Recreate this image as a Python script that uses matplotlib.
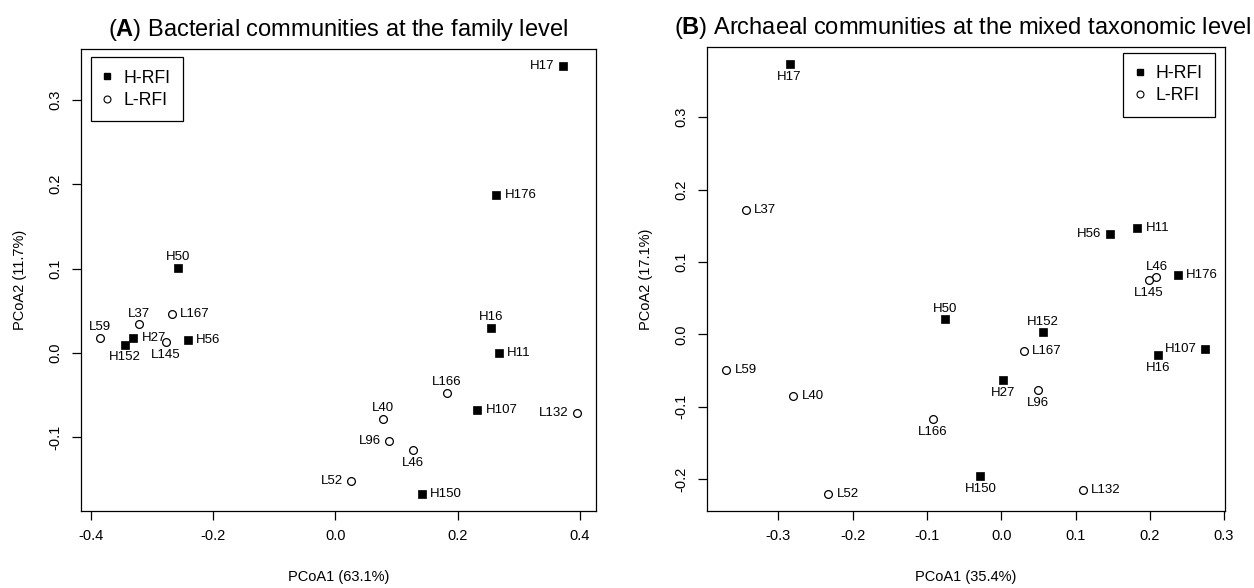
import matplotlib
matplotlib.use('Agg')
import matplotlib.pyplot as plt
from matplotlib.lines import Line2D
from matplotlib.ticker import FormatStrFormatter

plt.rcParams['font.family'] = 'Liberation Sans'
plt.rcParams['axes.unicode_minus'] = False
plt.rcParams['mathtext.fontset'] = 'custom'
plt.rcParams['mathtext.rm'] = 'Liberation Sans'
plt.rcParams['mathtext.bf'] = 'Liberation Sans:bold'

# PCoA - bacterias (familia)
nomes_a = ['H17', 'H176', 'H50', 'H16', 'H11', 'H107', 'H150', 'H27', 'H152', 'H56',
           'L59', 'L37', 'L167', 'L145', 'L166', 'L40', 'L96', 'L46', 'L52', 'L132']
x_a = [0.372, 0.263, -0.257, 0.254, 0.267, 0.232, 0.141, -0.331, -0.345, -0.242,
       -0.385, -0.322, -0.268, -0.277, 0.182, 0.078, 0.088, 0.127, 0.026, 0.395]
y_a = [0.340, 0.187, 0.101, 0.030, 0.000, -0.068, -0.167, 0.018, 0.010, 0.015,
       0.018, 0.034, 0.046, 0.013, -0.047, -0.078, -0.104, -0.115, -0.152, -0.071]
# posicao do rotulo: 1 abaixo, 2 esquerda, 3 acima, 4 direita
pos_a = [2, 4, 3, 3, 4, 4, 4, 4, 1, 4,
         3, 3, 4, 1, 3, 3, 2, 1, 2, 2]

# PCoA - arqueias (nivel misto)
nomes_b = ['H17', 'H56', 'H11', 'H176', 'H50', 'H152', 'H107', 'H16', 'H27', 'H150',
           'L37', 'L46', 'L145', 'L167', 'L96', 'L59', 'L40', 'L166', 'L52', 'L132']
x_b = [-0.285, 0.146, 0.183, 0.238, -0.076, 0.056, 0.275, 0.211, 0.002, -0.028,
       -0.344, 0.209, 0.199, 0.030, 0.049, -0.370, -0.280, -0.092, -0.233, 0.110]
y_b = [0.373, 0.139, 0.147, 0.082, 0.021, 0.003, -0.020, -0.028, -0.063, -0.196,
       0.172, 0.079, 0.075, -0.023, -0.077, -0.049, -0.085, -0.117, -0.220, -0.215]
pos_b = [1, 2, 4, 4, 3, 3, 2, 1, 1, 1,
         4, 3, 1, 4, 1, 4, 4, 1, 4, 4]

titulos = [r'($\mathbf{A}$) Bacterial communities at the family level',
           r'($\mathbf{B}$) Archaeal communities at the mixed taxonomic level']
eixo_x = ['PCoA1 (63.1%)', 'PCoA1 (35.4%)']
eixo_y = ['PCoA2 (11.7%)', 'PCoA2 (17.1%)']
ticks_x = [[-0.4, -0.2, 0.0, 0.2, 0.4], [-0.3, -0.2, -0.1, 0.0, 0.1, 0.2, 0.3]]
ticks_y = [[-0.1, 0.0, 0.1, 0.2, 0.3], [-0.2, -0.1, 0.0, 0.1, 0.2, 0.3]]
grupos = ['H-RFI', 'L-RFI']

fig = plt.figure(figsize=(12.54, 5.88), dpi=100)
ax_a = fig.add_axes([0.0646, 0.131, 0.4107, 0.7857])
ax_b = fig.add_axes([0.564, 0.1315, 0.4126, 0.788])

desloc = {1: ((0, -5), 'center', 'top'),
          2: ((-6, 0), 'right', 'center'),
          3: ((0, 5.5), 'center', 'baseline'),
          4: ((6, 0), 'left', 'center')}


def limites(v):
    # estilo R: 4% de margem
    d = (max(v) - min(v)) * 0.04
    return min(v) - d, max(v) + d


paineis = [(ax_a, nomes_a, x_a, y_a, pos_a), (ax_b, nomes_b, x_b, y_b, pos_b)]
for i, (ax, nomes, xs, ys, pos) in enumerate(paineis):
    for n, x, y, p in zip(nomes, xs, ys, pos):
        if n.startswith('H'):
            ax.plot(x, y, 's', ms=6, mfc='black', mec='black', mew=0.5)
        else:
            ax.plot(x, y, 'o', ms=5.6, mfc='white', mec='black', mew=0.9)
        off, ha, va = desloc[p]
        ax.annotate(n, (x, y), xytext=off, textcoords='offset points',
                    ha=ha, va=va, fontsize=9.5)

    ax.set_xlim(limites(xs))
    ax.set_ylim(limites(ys))
    ax.set_xticks(ticks_x[i])
    ax.set_yticks(ticks_y[i])
    ax.xaxis.set_major_formatter(FormatStrFormatter('%.1f'))
    ax.yaxis.set_major_formatter(FormatStrFormatter('%.1f'))
    ax.tick_params(direction='out', length=6.5, width=0.9, labelsize=10.5)
    ax.tick_params(axis='x', pad=6.5)
    ax.tick_params(axis='y', pad=7, labelrotation=90)
    for lab in ax.get_yticklabels():
        lab.set_va('center')
    for s in ax.spines.values():
        s.set_linewidth(0.9)

    ax.set_xlabel(eixo_x[i], fontsize=10.5)
    ax.set_ylabel(eixo_y[i], fontsize=10.5)
    ax.xaxis.set_label_coords(0.5, -0.127)
    ax.yaxis.set_label_coords(-0.105, 0.5)

    handles = [Line2D([], [], ls='none', marker='s', ms=4.5, mfc='black', mec='black'),
               Line2D([], [], ls='none', marker='o', ms=5, mfc='white', mec='black', mew=0.8)]
    if i == 0:
        leg = ax.legend(handles, grupos, loc='upper left', bbox_to_anchor=(0.0188, 0.982),
                        borderaxespad=0, fontsize=12.7, fancybox=False, framealpha=1,
                        edgecolor='black', borderpad=0.7, handlelength=0.5,
                        handletextpad=0.66, labelspacing=0.3)
    else:
        leg = ax.legend(handles, grupos, loc='upper right', bbox_to_anchor=(0.9813, 0.9884),
                        borderaxespad=0, fontsize=12.7, fancybox=False, framealpha=1,
                        edgecolor='black', borderpad=0.7, handlelength=0.5,
                        handletextpad=0.66, labelspacing=0.3)
    leg.get_frame().set_linewidth(0.9)

ax_a.set_title(titulos[0], fontsize=17, pad=9.7, x=0.499)
ax_b.set_title(titulos[1], fontsize=17, pad=9.7, x=0.4923)

plt.savefig('out.png', dpi=100)
